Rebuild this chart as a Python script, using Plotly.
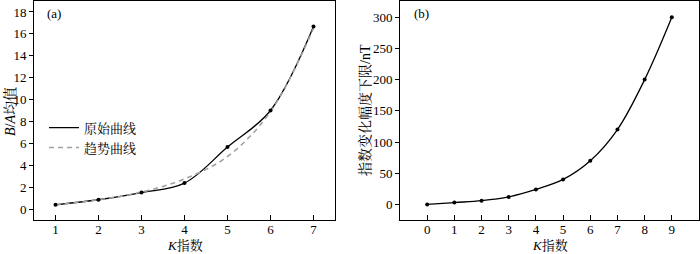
import plotly.graph_objects as go

# Panel (a)
k_a = [1, 2, 3, 4, 5, 6, 7]
ba_original = [0.39, 0.85, 1.51, 2.37, 5.66, 9.0, 16.66]
ba_trend = [0.4, 0.85, 1.55, 2.75, 4.8, 8.9, 16.5]
# Panel (b)
k_b = [0, 1, 2, 3, 4, 5, 6, 7, 8, 9]
lower_limit = [0, 3, 6, 12, 24, 40, 70, 120, 200, 300]

W, H = 700, 254
FONT = "Liberation Serif, Times New Roman, Noto Serif CJK SC, Noto Sans CJK SC, serif"

fig = go.Figure()
fig.add_trace(go.Scatter(x=k_a, y=ba_original, mode="lines", name="原始曲线",
                         line=dict(color="black", width=1.3, shape="spline"),
                         xaxis="x", yaxis="y"))
fig.add_trace(go.Scatter(x=k_a, y=ba_trend, mode="lines", name="趋势曲线",
                         line=dict(color="#a0a0a0", width=1.6, dash="5px,4px", shape="spline"),
                         xaxis="x", yaxis="y"))
fig.add_trace(go.Scatter(x=k_a, y=ba_original, mode="markers", showlegend=False,
                         marker=dict(size=4, color="black"), xaxis="x", yaxis="y"))
fig.add_trace(go.Scatter(x=k_b, y=lower_limit, mode="lines+markers", showlegend=False,
                         line=dict(color="black", width=1.3, shape="spline"),
                         marker=dict(size=4, color="black"), xaxis="x2", yaxis="y2"))

axis_common = dict(showline=True, linecolor="black", linewidth=1, mirror=True,
                   showgrid=False, zeroline=False,
                   tickfont=dict(family=FONT, size=13, color="black"),
                   tickcolor="black", tickwidth=1)

fig.update_layout(
    width=W, height=H,
    margin=dict(l=0, r=0, t=1, b=34),
    paper_bgcolor="white", plot_bgcolor="white",
    font=dict(family=FONT, size=13, color="black"),
    xaxis=dict(domain=[34 / W, 335 / W], range=[0.5, 7.5], tickvals=k_a,
               ticks="inside", ticklen=5, ticklabelstandoff=-3, anchor="y", **axis_common),
    yaxis=dict(range=[-1, 19], tickvals=[0, 2, 4, 6, 8, 10, 12, 14, 16, 18],
               ticks="outside", ticklen=4, anchor="x", **axis_common),
    xaxis2=dict(domain=[400 / W, 699 / W], range=[-1, 10], tickvals=k_b,
                ticks="inside", ticklen=5, ticklabelstandoff=-3, anchor="y2", **axis_common),
    yaxis2=dict(range=[-25, 326], tickvals=[0, 50, 100, 150, 200, 250, 300],
                ticks="outside", ticklen=4, anchor="x2", **axis_common),
    legend=dict(x=44 / W, y=0.49, xanchor="left", yanchor="top",
                bgcolor="rgba(0,0,0,0)", font=dict(family=FONT, size=13),
                tracegroupgap=0, itemwidth=30),
    showlegend=True,
)

ph = H - 35  # plot area height in px
def py(ypix):
    return (220 - ypix) / ph

annotations = [
    dict(text="(a)", x=45 / W, y=py(13), xref="paper", yref="paper",
         xanchor="left", yanchor="middle", showarrow=False, font=dict(size=13)),
    dict(text="(b)", x=412 / W, y=py(13), xref="paper", yref="paper",
         xanchor="left", yanchor="middle", showarrow=False, font=dict(size=13)),
    dict(text="<i>K</i>指数", x=184.5 / W, y=py(245), xref="paper", yref="paper",
         xanchor="center", yanchor="middle", showarrow=False, font=dict(size=13)),
    dict(text="<i>K</i>指数", x=549.5 / W, y=py(245), xref="paper", yref="paper",
         xanchor="center", yanchor="middle", showarrow=False, font=dict(size=13)),
    dict(text="<i>B</i>/<i>A</i>均值", x=10 / W, y=py(112), xref="paper", yref="paper",
         xanchor="center", yanchor="middle", textangle=-90, showarrow=False, font=dict(size=14)),
    dict(text="指数变化幅度下限/nT", x=365 / W, y=py(110), xref="paper", yref="paper",
         xanchor="center", yanchor="middle", textangle=-90, showarrow=False, font=dict(size=14)),
]
fig.update_layout(annotations=annotations)

fig.write_html("out.html", config={"displayModeBar": False},
               post_script="document.body.style.margin='0px';")
